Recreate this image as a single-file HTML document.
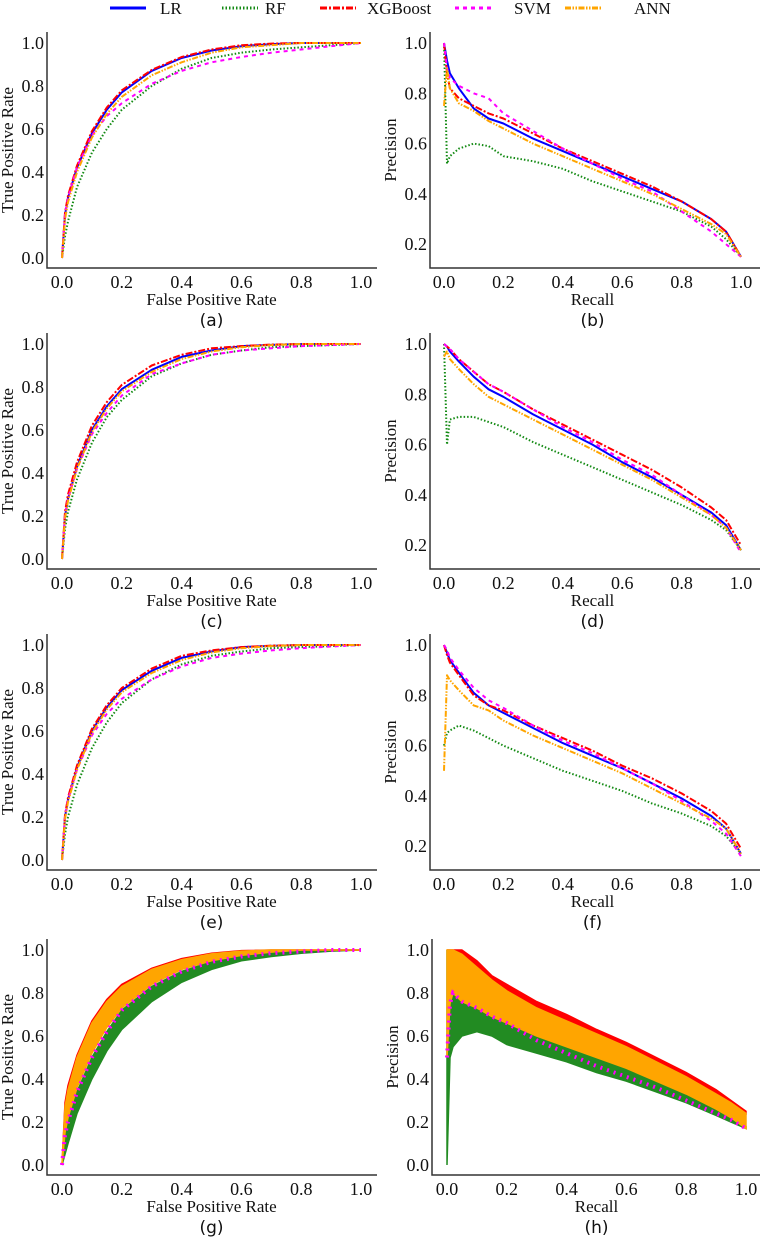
<!DOCTYPE html>
<html><head><meta charset="utf-8"><style>
body{margin:0;background:#fff}
svg{display:block}
text{font-family:"Liberation Serif",serif;fill:#111}
.pl{font-family:"DejaVu Sans","Liberation Sans",sans-serif;font-size:17px}
</style></head><body>
<svg id="fig" width="761" height="1239" viewBox="0 0 761 1239">
<g id="legend"></g>
</svg>
<script>
const fprGrid=[0,0.01,0.02,0.05,0.1,0.15,0.2,0.3,0.4,0.5,0.6,0.7,0.8,0.9,1.0];
const recGrid=[0,0.01,0.02,0.05,0.1,0.15,0.2,0.3,0.4,0.5,0.6,0.7,0.8,0.9,0.95,1.0];
const seriesNames=["LR","RF","XGBoost","SVM","ANN"];
const rocA_LR=[0,0.2,0.28,0.42,0.58,0.69,0.77,0.87,0.93,0.965,0.985,0.995,1,1,1];
const rocA_RF=[0,0.1,0.17,0.33,0.49,0.6,0.69,0.8,0.88,0.93,0.955,0.97,0.98,0.99,1];
const rocA_XGB=[0,0.21,0.29,0.43,0.59,0.7,0.78,0.875,0.935,0.97,0.99,0.997,1,1,1];
const rocA_SVM=[0,0.2,0.28,0.42,0.57,0.66,0.72,0.81,0.87,0.91,0.935,0.955,0.97,0.985,1];
const rocA_ANN=[0,0.18,0.26,0.4,0.56,0.67,0.75,0.85,0.91,0.955,0.98,0.99,1,1,1];
const rocC_LR=[0,0.2,0.28,0.43,0.6,0.71,0.79,0.88,0.94,0.97,0.99,0.996,1,1,1];
const rocC_RF=[0,0.14,0.22,0.37,0.54,0.66,0.74,0.85,0.91,0.95,0.97,0.985,0.99,0.995,1];
const rocC_XGB=[0,0.22,0.3,0.45,0.62,0.73,0.81,0.9,0.95,0.98,0.99,0.997,1,1,1];
const rocC_SVM=[0,0.2,0.28,0.42,0.58,0.68,0.76,0.86,0.91,0.95,0.97,0.98,0.99,0.995,1];
const rocC_ANN=[0,0.19,0.27,0.42,0.59,0.7,0.78,0.87,0.93,0.965,0.985,0.995,1,1,1];
const rocE_LR=[0,0.2,0.28,0.43,0.6,0.71,0.79,0.88,0.94,0.97,0.99,0.996,1,1,1];
const rocE_RF=[0,0.12,0.2,0.35,0.52,0.64,0.73,0.84,0.91,0.95,0.97,0.985,0.99,0.995,1];
const rocE_XGB=[0,0.21,0.29,0.44,0.61,0.72,0.8,0.89,0.95,0.975,0.99,0.997,1,1,1];
const rocE_SVM=[0,0.2,0.28,0.42,0.58,0.68,0.75,0.84,0.9,0.94,0.96,0.975,0.985,0.993,1];
const rocE_ANN=[0,0.19,0.27,0.42,0.59,0.7,0.78,0.87,0.93,0.965,0.985,0.995,1,1,1];
const prB_LR=[1,0.93,0.88,0.82,0.74,0.7,0.68,0.62,0.57,0.52,0.47,0.42,0.37,0.3,0.25,0.15];
const prB_RF=[1,0.52,0.55,0.58,0.6,0.59,0.55,0.53,0.5,0.45,0.41,0.37,0.33,0.27,0.22,0.15];
const prB_XGB=[1,0.88,0.82,0.78,0.75,0.72,0.7,0.64,0.58,0.53,0.48,0.43,0.37,0.3,0.25,0.15];
const prB_SVM=[1,0.9,0.86,0.83,0.8,0.78,0.72,0.65,0.58,0.52,0.46,0.41,0.33,0.25,0.2,0.15];
const prB_ANN=[0.75,0.9,0.82,0.76,0.73,0.69,0.66,0.6,0.55,0.5,0.45,0.4,0.34,0.28,0.24,0.15];
const prD_LR=[1,0.99,0.97,0.93,0.87,0.82,0.79,0.72,0.66,0.6,0.53,0.47,0.4,0.33,0.28,0.18];
const prD_RF=[1,0.6,0.7,0.71,0.71,0.69,0.67,0.61,0.56,0.51,0.46,0.41,0.36,0.3,0.26,0.18];
const prD_XGB=[1,0.99,0.98,0.94,0.89,0.84,0.81,0.74,0.68,0.62,0.56,0.5,0.43,0.35,0.3,0.2];
const prD_SVM=[1,0.99,0.98,0.94,0.89,0.84,0.81,0.74,0.67,0.61,0.54,0.48,0.4,0.32,0.27,0.17];
const prD_ANN=[0.95,0.97,0.94,0.9,0.84,0.79,0.76,0.7,0.64,0.58,0.52,0.46,0.39,0.32,0.27,0.18];
const prF_LR=[1,0.97,0.94,0.89,0.81,0.76,0.73,0.67,0.61,0.56,0.51,0.45,0.39,0.32,0.27,0.17];
const prF_RF=[0.6,0.65,0.66,0.68,0.66,0.63,0.6,0.55,0.5,0.46,0.42,0.37,0.33,0.28,0.24,0.17];
const prF_XGB=[1,0.96,0.93,0.88,0.8,0.76,0.74,0.68,0.63,0.58,0.52,0.47,0.41,0.34,0.29,0.19];
const prF_SVM=[1,0.98,0.95,0.9,0.83,0.78,0.75,0.68,0.62,0.57,0.51,0.45,0.38,0.3,0.25,0.16];
const prF_ANN=[0.5,0.88,0.86,0.82,0.76,0.74,0.7,0.64,0.59,0.54,0.49,0.43,0.37,0.31,0.27,0.17];
const rocG_redTop=[0,0.29,0.37,0.51,0.67,0.77,0.84,0.915,0.96,0.985,0.997,1,1,1,1];
const rocG_orangeTop=[0,0.27,0.35,0.5,0.66,0.76,0.83,0.91,0.955,0.982,0.995,1,1,1,1];
const rocG_orangeBot=[0,0.15,0.22,0.36,0.52,0.64,0.73,0.84,0.91,0.95,0.975,0.99,1,1,1];
const rocG_magTop=[0,0.14,0.2,0.34,0.5,0.62,0.72,0.83,0.9,0.945,0.97,0.985,0.993,1,1];
const rocG_greenBot=[0,0.05,0.1,0.24,0.4,0.53,0.63,0.76,0.85,0.91,0.95,0.97,0.985,0.995,1];
const prH_redTop=[1,1,1,1,0.95,0.88,0.84,0.76,0.7,0.63,0.57,0.5,0.43,0.35,0.3,0.25];
const prH_orangeTop=[1,1,1,0.98,0.92,0.86,0.81,0.73,0.67,0.61,0.55,0.48,0.41,0.33,0.29,0.24];
const prH_orangeBot=[0.5,0.75,0.8,0.76,0.73,0.69,0.66,0.6,0.55,0.5,0.45,0.39,0.33,0.26,0.22,0.17];
const prH_greenTop=[1,0.72,0.8,0.78,0.75,0.72,0.68,0.62,0.56,0.51,0.47,0.41,0.35,0.28,0.24,0.18];
const prH_greenBot=[0,0.5,0.55,0.6,0.62,0.6,0.56,0.52,0.48,0.43,0.39,0.34,0.29,0.23,0.2,0.17];
const prH_magLow=[0.5,0.75,0.8,0.76,0.73,0.69,0.66,0.58,0.52,0.46,0.41,0.36,0.3,0.24,0.21,0.17];
const tickLabels=["0.0","0.2","0.4","0.6","0.8","1.0"];
const prTickLabels=["0.2","0.4","0.6","0.8","1.0"];

const NS="http://www.w3.org/2000/svg";
const svg=document.getElementById('fig');
function mk(tag,attrs,parent){const e=document.createElementNS(NS,tag);for(const k in attrs)e.setAttribute(k,attrs[k]);(parent||svg).appendChild(e);return e;}
const styles={
 LR:{c:"#0000ff",d:""},
 RF:{c:"#138a13",d:"1.5,2"},
 XGBoost:{c:"#ff0000",d:"7,2,2,2"},
 SVM:{c:"#ff00ff",d:"4,4"},
 ANN:{c:"#ffa500",d:"6,1.5,1.5,1.5,1.5,1.5"}
};
const legX=[[110,160],[222,265],[320,367],[455,514],[565,634]];
seriesNames.forEach((n,i)=>{
 const g=mk('g',{});
 
 
 document.getElementById('legend').appendChild(g);
 mk('line',{x1:legX[i][0],x2:legX[i][0]+36,y1:8,y2:8,stroke:styles[n].c,'stroke-width':3,'stroke-dasharray':styles[n].d},g);
 const t=mk('text',{x:legX[i][1],y:14,'font-size':17},g);t.textContent=n;
});

function panel(o){
 const g=mk('g',{});
 
 
 const sx=v=>o.x0+(o.x1-o.x0)*v;
 const sy=v=>o.y0+(o.y1-o.y0)*v;
 const ax=mk('path',{d:`M${o.spX},${o.spTop}V${o.spBot}H${o.spRight}`,fill:'none',stroke:'#333','stroke-width':1.5},g);
 
 
 tickLabels.forEach((t,i)=>{
  const v=i*0.2;
  const tx=mk('text',{x:sx(v),y:o.spBot+20,'font-size':18,'text-anchor':'middle'},g);tx.textContent=t;
  
  
 });
 const yl=o.pr&&!o.full?prTickLabels:tickLabels;
 yl.forEach(t=>{
  const v=parseFloat(t);
  const tx=mk('text',{x:o.spX-3,y:sy(v)+6,'font-size':18,'text-anchor':'end'},g);tx.textContent=t;
  
  
 });
 const xt=mk('text',{x:(o.x0+o.x1)/2,y:o.spBot+37,'font-size':17,'text-anchor':'middle'},g);
 xt.textContent=o.pr?'Recall':'False Positive Rate';
 
 
 const yc=(o.spTop+o.spBot)/2, yx=o.spX-34;
 const yt=mk('text',{x:yx,y:yc,'font-size':17,'text-anchor':'middle',transform:`rotate(-90 ${yx} ${yc})`},g);
 yt.textContent=o.pr?'Precision':'True Positive Rate';
 
 
 const pl=mk('text',{x:(o.x0+o.x1)/2,y:o.spBot+58,'class':'pl','text-anchor':'middle'},g);
 pl.textContent='('+o.label+')';
 
 
 const grid=o.pr?recGrid:fprGrid;
 const pts=arr=>arr.map((v,i)=>sx(grid[i]).toFixed(1)+','+sy(v).toFixed(1));
 if(o.series){
  o.series.forEach((arr,i)=>{
   const n=seriesNames[i];
   const p=mk('polyline',{points:pts(arr).join(' '),fill:'none',stroke:styles[n].c,'stroke-width':2,'stroke-dasharray':styles[n].d,'stroke-linejoin':'round'},g);
   
   
  });
 }
 if(o.bands){
  o.bands.forEach(b=>{
   const p=mk('polygon',{points:pts(b.top).concat(pts(b.bot).reverse()).join(' '),fill:b.c,stroke:b.c,'stroke-width':1.5},g);
   
   
  });
  o.lines.forEach(b=>{
   const p=mk('polyline',{points:pts(b.arr).join(' '),fill:'none',stroke:b.c,'stroke-width':b.w,'stroke-dasharray':b.d},g);
   
   
  });
 }
}
const rowOff=301;
const rocSets=[[rocA_LR,rocA_RF,rocA_XGB,rocA_SVM,rocA_ANN],[rocC_LR,rocC_RF,rocC_XGB,rocC_SVM,rocC_ANN],[rocE_LR,rocE_RF,rocE_XGB,rocE_SVM,rocE_ANN]];
const prSets=[[prB_LR,prB_RF,prB_XGB,prB_SVM,prB_ANN],[prD_LR,prD_RF,prD_XGB,prD_SVM,prD_ANN],[prF_LR,prF_RF,prF_XGB,prF_SVM,prF_ANN]];
[0,1,2].forEach(r=>{
 const d=r*rowOff;
 panel({label:'ace'[r],x0:62,x1:361,y0:258+d,y1:43+d,spX:47,spTop:32+d,spBot:268+d,spRight:377,
   series:rocSets[r],pr:false});
 panel({label:'bdf'[r],x0:444,x1:741,y0:294.5+d,y1:43+d,spX:430,spTop:32+d,spBot:268+d,spRight:760,
   series:prSets[r],pr:true});
});
panel({label:'g',x0:62,x1:361,y0:1165,y1:950,spX:47,spTop:939,spBot:1175,spRight:377,pr:false,
 bands:[{n:'green',c:'#228b22',top:rocG_magTop,bot:rocG_greenBot},{n:'red',c:'#ff0000',top:rocG_redTop,bot:rocG_orangeTop},{n:'orange',c:'#ffa500',top:rocG_orangeTop,bot:rocG_orangeBot}],
 lines:[{n:'svm',c:'#ff00ff',w:4,d:'2,5',arr:rocG_magTop}]});
panel({label:'h',x0:447,x1:746,y0:1165,y1:950,spX:432,spTop:939,spBot:1175,spRight:760,pr:true,full:true,
 bands:[{n:'green',c:'#228b22',top:prH_greenTop,bot:prH_greenBot},{n:'red',c:'#ff0000',top:prH_redTop,bot:prH_orangeTop},{n:'orange',c:'#ffa500',top:prH_orangeTop,bot:prH_orangeBot}],
 lines:[{n:'svm-low',c:'#ff00ff',w:4,d:'2,5',arr:prH_magLow}]});
</script>
</body></html>
